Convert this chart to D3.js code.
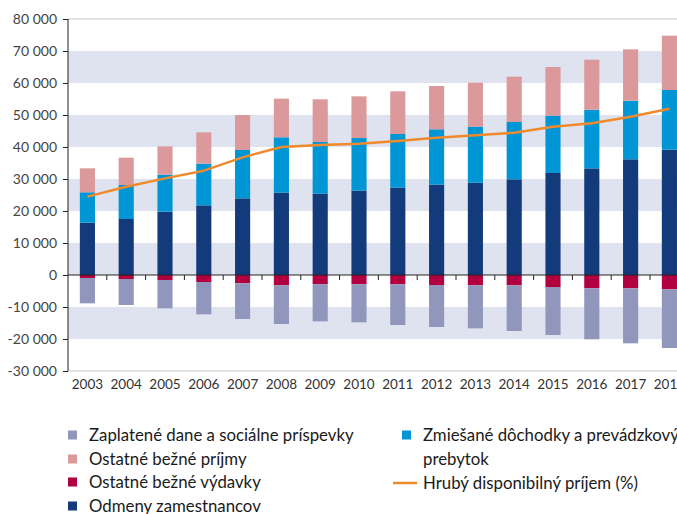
<!DOCTYPE html>
<html>
<head>
<meta charset="utf-8">
<script src="https://cdn.jsdelivr.net/npm/d3@7"></script>
<style>
  body { margin: 0; background: #fff; }
  svg text { font-family: Lato, "Open Sans", sans-serif; }
</style>
</head>
<body>
<div id="container"></div>
<script>
// values (EUR mil.)
var years = ['2003','2004','2005','2006','2007','2008','2009','2010','2011','2012','2013','2014','2015','2016','2017','2018'];
var odmeny   = [16350, 17500, 19800, 21770, 23950, 25730, 25420, 26350, 27290, 28230, 28850, 29900, 31875, 33330, 36150, 39170];
var zmiesane = [9490, 10625, 11550, 13030, 15110, 17300, 16140, 16450, 16770, 17290, 17500, 17910, 17915, 18340, 18330, 18640];
var prijmy   = [7500, 8535, 8850, 9780, 10940, 12070, 13340, 13030, 13340, 13540, 13750, 14170, 15210, 15620, 16040, 16980];
var vydavky  = [-940, -1250, -1560, -2190, -2600, -3230, -2920, -2920, -2920, -3125, -3230, -3230, -3750, -4170, -4170, -4480];
var dane     = [-7910, -8125, -8860, -10100, -11150, -12080, -11560, -11870, -12705, -13125, -13440, -14270, -15000, -15930, -17180, -18330];
var hdp      = [24480, 27600, 30200, 32600, 36770, 40000, 40625, 41040, 41875, 42920, 43650, 44480, 46350, 47400, 49480, 51980];
var yTicks = [80000, 70000, 60000, 50000, 40000, 30000, 20000, 10000, 0, -10000, -20000, -30000];

var colors = {
  odmeny: '#133a7b',
  zmiesane: '#0096d6',
  prijmy: '#db999c',
  vydavky: '#b0003f',
  dane: '#9096bc',
  line: '#f08a2c',
  band: '#dfe3ef'
};

function fmt(v) {
  var s = d3.format(',')(v).replace(/,/g, ' ');
  return s.replace('−', '-');
}

function drawChart() {
  var svg = d3.select('#container').append('svg')
    .attr('width', 677)
    .attr('height', 514);

  var left = 68, top = 19, bottom = 371;
  var x = d3.scaleBand().domain(years).range([left, left + 16 * 38.8]).paddingInner(0.61).paddingOuter(0.305);
  var y = d3.scaleLinear().domain([-30000, 80000]).range([bottom, top]);

  // shaded bands
  var bands = [[60000, 70000], [40000, 50000], [20000, 30000], [0, 10000], [-20000, -10000]];
  svg.selectAll('rect.band').data(bands).enter().append('rect')
    .attr('class', 'band')
    .attr('x', left).attr('width', 677 - left)
    .attr('y', function(d) { return y(d[1]); })
    .attr('height', function(d) { return y(d[0]) - y(d[1]); })
    .attr('fill', colors.band);

  // top and bottom grey lines
  [80000, -30000].forEach(function(v) {
    svg.append('line').attr('x1', left).attr('x2', 677)
      .attr('y1', y(v)).attr('y2', y(v))
      .attr('stroke', '#c4c4c4').attr('stroke-width', 1);
  });

  // stacked bars
  var series = [
    { key: 'odmeny', values: odmeny, base: function(i) { return 0; } },
    { key: 'zmiesane', values: zmiesane, base: function(i) { return odmeny[i]; } },
    { key: 'prijmy', values: prijmy, base: function(i) { return odmeny[i] + zmiesane[i]; } },
    { key: 'vydavky', values: vydavky, base: function(i) { return 0; } },
    { key: 'dane', values: dane, base: function(i) { return vydavky[i]; } }
  ];

  series.forEach(function(s) {
    svg.append('g').selectAll('rect').data(s.values).enter().append('rect')
      .attr('x', function(d, i) { return x(years[i]); })
      .attr('width', x.bandwidth())
      .attr('y', function(d, i) { return y(Math.max(s.base(i), s.base(i) + d)); })
      .attr('height', function(d, i) { return Math.abs(y(s.base(i)) - y(s.base(i) + d)); })
      .attr('fill', colors[s.key]);
  });

  // line
  var line = d3.line()
    .x(function(d, i) { return x(years[i]) + x.bandwidth() / 2; })
    .y(function(d) { return y(d); });
  svg.append('path').datum(hdp)
    .attr('d', line)
    .attr('fill', 'none')
    .attr('stroke', colors.line)
    .attr('stroke-width', 2.5)
    .attr('stroke-linejoin', 'round');

  // y axis
  var yAxis = svg.append('g')
    .attr('transform', 'translate(' + left + ',0)')
    .call(d3.axisLeft(y).tickValues(yTicks).tickFormat(fmt).tickSize(5).tickPadding(4));
  yAxis.select('.domain').attr('stroke', '#222').attr('d', 'M0,' + top + 'V' + bottom);
  yAxis.selectAll('.tick line').attr('stroke', '#222');
  yAxis.selectAll('.tick text').attr('fill', '#444').attr('font-size', 14).attr('x', -11)
    .style('font-family', 'Lato, sans-serif');

  // zero line with ticks between categories
  var xAxis = svg.append('g')
    .attr('transform', 'translate(0,' + y(0) + ')');
  xAxis.append('line').attr('x1', left).attr('x2', 677).attr('y1', 0).attr('y2', 0)
    .attr('stroke', '#222').attr('stroke-width', 1.2);
  xAxis.selectAll('line.t').data(years.slice(1)).enter().append('line')
    .attr('class', 't')
    .attr('x1', function(d) { return x(d) - x.step() * x.paddingInner() / 2; })
    .attr('x2', function(d) { return x(d) - x.step() * x.paddingInner() / 2; })
    .attr('y1', 0).attr('y2', 5)
    .attr('stroke', '#222');

  // year labels
  svg.append('g').selectAll('text').data(years).enter().append('text')
    .attr('x', function(d) { return x(d) + x.bandwidth() / 2; })
    .attr('y', 389)
    .attr('text-anchor', 'middle')
    .attr('font-size', 13.5)
    .attr('fill', '#333')
    .text(function(d) { return d; });

  // legend
  var legend = [
    { label: 'Zaplatené dane a sociálne príspevky', color: colors.dane, x: 68, y: 435 },
    { label: 'Ostatné bežné príjmy', color: colors.prijmy, x: 68, y: 459 },
    { label: 'Ostatné bežné výdavky', color: colors.vydavky, x: 68, y: 482 },
    { label: 'Odmeny zamestnancov', color: colors.odmeny, x: 68, y: 506 },
    { label: 'Zmiešané dôchodky a prevádzkový', color: colors.zmiesane, x: 402, y: 435 },
    { label: 'prebytok', color: null, x: 402, y: 459 },
    { label: 'Hrubý disponibilný príjem (%)', color: colors.line, x: 402, y: 483, line: true }
  ];
  var lg = svg.append('g').attr('class', 'leg').selectAll('g').data(legend).enter().append('g');
  lg.filter(function(d) { return d.color && !d.line; }).append('rect')
    .attr('x', function(d) { return d.x; })
    .attr('y', function(d) { return d.y - 4.5; })
    .attr('width', 9).attr('height', 9)
    .attr('fill', function(d) { return d.color; });
  lg.filter(function(d) { return d.line; }).append('line')
    .attr('x1', 393).attr('x2', 417)
    .attr('y1', function(d) { return d.y; }).attr('y2', function(d) { return d.y; })
    .attr('stroke', colors.line).attr('stroke-width', 2.5);
  lg.append('text')
    .attr('x', function(d) { return d.x + 21; })
    .attr('y', function(d) { return d.y + 6; })
    .attr('font-size', 16.8)
    .attr('fill', '#1a1a1a')
    .text(function(d) { return d.label; });
}

drawChart();
</script>
</body>
</html>
